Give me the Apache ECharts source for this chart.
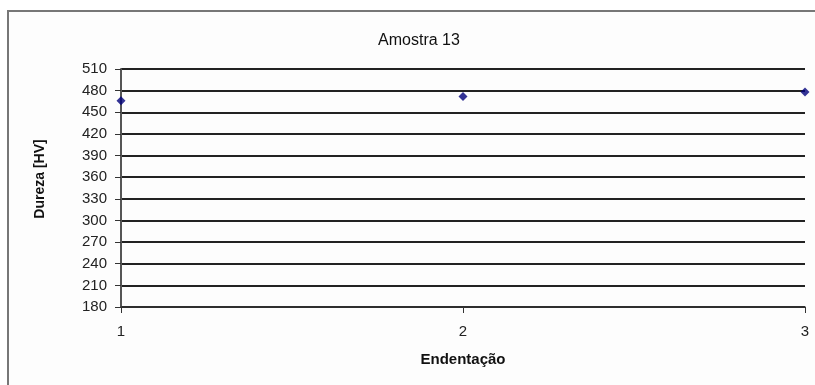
<!DOCTYPE html>
<html><head><meta charset="utf-8">
<script src="https://cdn.jsdelivr.net/npm/echarts@6/dist/echarts.min.js"></script>
<style>
html,body{margin:0;padding:0;background:#fff;}
#frame{position:absolute;left:7px;top:10px;width:820px;height:400px;border-left:2px solid #777;border-top:2px solid #777;background:#fdfdfd;}
#c{position:absolute;left:0;top:0;width:815px;height:385px;}
</style></head>
<body>
<div id="frame"></div>
<div id="c"></div>
<script>
var title = "Amostra 13";
var xName = "Endentação";
var yName = "Dureza [HV]";
var indent = [1, 2, 3];
var hardness = [466, 472, 478];
var yMin = 180, yMax = 510, yStep = 30;

var font = 'Liberation Sans, Arial';
var chart = echarts.init(document.getElementById('c'));
chart.setOption({
  backgroundColor: 'transparent',
  animation: false,
  title: {text: title, left: 414, top: 28, textAlign: 'center',
    textStyle: {fontFamily: font, fontSize: 16, fontWeight: 'normal', color: '#111'}},
  graphic: [{type: 'text', x: 40, y: 179, rotation: Math.PI / 2,
    style: {text: yName, x: 0, y: 0, align: 'center', verticalAlign: 'middle',
      font: 'bold 14px Liberation Sans, Arial', fill: '#111'}}],
  grid: {left: 121, right: 10, top: 69, bottom: 78},
  xAxis: {type: 'value', min: 1, max: 3, interval: 1,
    name: xName, nameLocation: 'middle', nameGap: 45,
    nameTextStyle: {fontFamily: font, fontSize: 15, fontWeight: 'bold', color: '#111'},
    axisLine: {show: true, lineStyle: {color: '#333', width: 1.5}},
    axisTick: {show: true, inside: false, length: 6, lineStyle: {color: '#333'}},
    axisLabel: {fontFamily: font, fontSize: 15, color: '#222', margin: 17},
    splitLine: {show: false}},
  yAxis: {type: 'value', min: yMin, max: yMax, interval: yStep,
    axisLine: {show: true, lineStyle: {color: '#555', width: 2}},
    axisTick: {show: true, length: 6, lineStyle: {color: '#333'}},
    axisLabel: {fontFamily: font, fontSize: 15, color: '#222', margin: 14},
    splitLine: {show: true, lineStyle: {color: '#222', width: 1.8}}},
  series: [{type: 'scatter', data: indent.map(function(x, i){ return [x, hardness[i]]; }),
    symbol: 'diamond', symbolSize: 9, itemStyle: {color: '#00007a'}}]
});
</script>
</body></html>
